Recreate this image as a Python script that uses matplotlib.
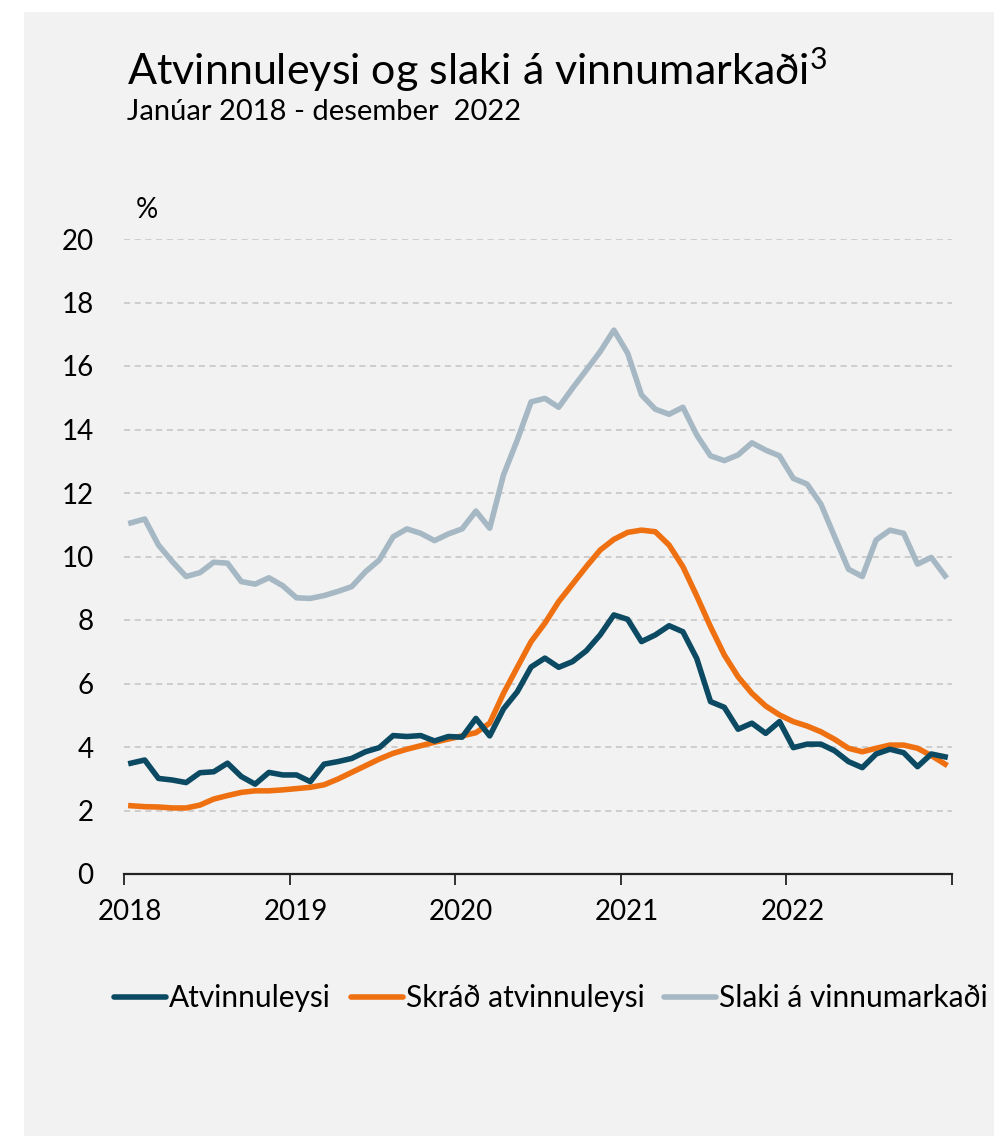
import numpy as np
import matplotlib
matplotlib.use("Agg")
import matplotlib.pyplot as plt
from matplotlib.patches import Rectangle
from matplotlib.transforms import ScaledTranslation

plt.rcParams["font.family"] = ["Lato", "DejaVu Sans"]
plt.rcParams["mathtext.default"] = "regular"

# Monthly values, January 2018 - December 2022 (%)
atvinnuleysi = [
    3.49, 3.59, 3.01, 2.96, 2.88, 3.19, 3.22, 3.49, 3.07, 2.83, 3.20, 3.12,
    3.12, 2.91, 3.46, 3.54, 3.64, 3.85, 3.98, 4.36, 4.33, 4.36, 4.19, 4.33,
    4.31, 4.90, 4.35, 5.20, 5.74, 6.52, 6.80, 6.51, 6.69, 7.03, 7.53, 8.16,
    8.02, 7.32, 7.53, 7.82, 7.63, 6.79, 5.43, 5.25, 4.56, 4.75, 4.43, 4.80,
    3.98, 4.09, 4.09, 3.88, 3.54, 3.35, 3.78, 3.93, 3.82, 3.38, 3.78, 3.69,
]
skrad = [
    2.15, 2.12, 2.11, 2.08, 2.08, 2.17, 2.36, 2.47, 2.57, 2.62, 2.62, 2.65,
    2.69, 2.73, 2.81, 2.99, 3.20, 3.41, 3.62, 3.80, 3.93, 4.04, 4.15, 4.25,
    4.35, 4.45, 4.75, 5.69, 6.51, 7.32, 7.90, 8.58, 9.13, 9.68, 10.20, 10.54,
    10.76, 10.83, 10.78, 10.36, 9.68, 8.76, 7.79, 6.90, 6.21, 5.69, 5.29, 5.01,
    4.80, 4.66, 4.48, 4.24, 3.96, 3.85, 3.96, 4.06, 4.06, 3.96, 3.73, 3.46,
]
slaki = [
    11.06, 11.18, 10.36, 9.84, 9.37, 9.49, 9.82, 9.79, 9.21, 9.13, 9.33, 9.08,
    8.70, 8.68, 8.77, 8.90, 9.05, 9.52, 9.89, 10.62, 10.87, 10.73, 10.50, 10.71,
    10.87, 11.43, 10.89, 12.57, 13.67, 14.87, 14.98, 14.70, 15.30, 15.87, 16.45, 17.13,
    16.40, 15.09, 14.64, 14.48, 14.70, 13.83, 13.17, 13.02, 13.20, 13.58, 13.35, 13.17,
    12.46, 12.28, 11.65, 10.62, 9.60, 9.37, 10.52, 10.83, 10.73, 9.76, 9.97, 9.39,
]
years = ["2018", "2019", "2020", "2021", "2022", ""]
series_names = ["Atvinnuleysi", "Skráð atvinnuleysi", "Slaki á vinnumarkaði"]
colors = ["#0b4a62", "#ee7011", "#a5b8c4"]

W, H = 995, 1136
fig = plt.figure(figsize=(W / 100, H / 100), dpi=100)
fig.patches.append(Rectangle((24 / W, 0), 1, 1 - 12 / H, transform=fig.transFigure,
                             facecolor="#f2f2f2", edgecolor="none", zorder=-10))

ax = fig.add_axes([124 / W, 1 - 874 / H, 828 / W, 635 / H])
ax.set_facecolor("none")

# points sit in the middle of each month slot
x = np.arange(len(slaki)) + 0.5
ax.plot(x, slaki, color=colors[2], lw=4, label=series_names[2], zorder=3)
ax.plot(x, skrad, color=colors[1], lw=4, label=series_names[1], zorder=4)
ax.plot(x, atvinnuleysi, color=colors[0], lw=4, label=series_names[0], zorder=5)

ax.set_xlim(0, 60)
ax.set_ylim(0, 20)
ax.set_yticks(np.arange(0, 21, 2))
ax.set_yticklabels([str(v) for v in range(0, 21, 2)], fontsize=20, color="#000000")
ax.set_xticks(np.arange(0, 61, 12))
ax.set_xticklabels(years, fontsize=20, color="#000000")
ax.tick_params(axis="y", length=0, pad=22)
ax.tick_params(axis="x", length=8, width=1.3, color="#222222", pad=10, direction="out")
for lab in ax.get_xticklabels():
    lab.set_transform(lab.get_transform() + ScaledTranslation(6 / 100, 0, fig.dpi_scale_trans))
ax.grid(axis="y", color="#c4c4c4", linestyle=(0, (4, 3)), lw=1.1, zorder=0)
for s in ["top", "right", "left"]:
    ax.spines[s].set_visible(False)
ax.spines["bottom"].set_color("#222222")
ax.spines["bottom"].set_linewidth(1.6)
ax.spines["bottom"].set_zorder(6)

fig.text(127 / W, 1 - 70 / H, "Atvinnuleysi og slaki á vinnumarkaði$^3$",
         fontsize=31, va="center", ha="left")
fig.text(127 / W, 1 - 112 / H, "Janúar 2018 - desember  2022",
         fontsize=21, va="center", ha="left")
fig.text(136 / W, 1 - 210 / H, "%", fontsize=20, va="center", ha="left")

handles, labels = ax.get_legend_handles_labels()
order = [2, 1, 0]
leg = fig.legend([handles[i] for i in order], [labels[i] for i in order],
                 loc="center", bbox_to_anchor=(551 / W, 1 - 998 / H), ncol=3,
                 frameon=False, fontsize=21.5, handlelength=1.75, handletextpad=0.1,
                 columnspacing=0.65)
for ln in leg.get_lines():
    ln.set_solid_capstyle("round")

fig.savefig("out.png", dpi=100, facecolor="white")
